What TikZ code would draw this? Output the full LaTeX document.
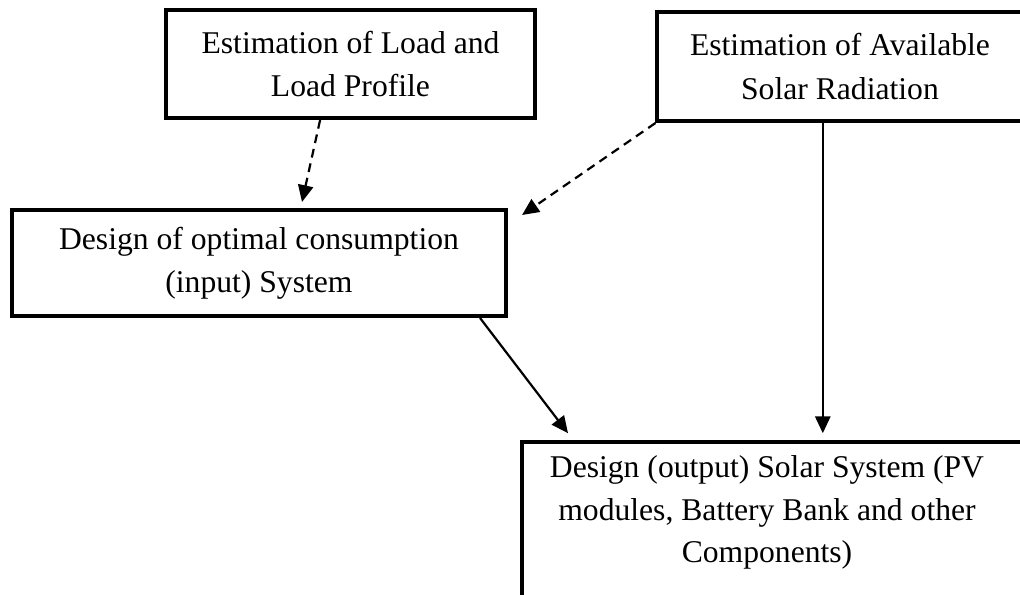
\documentclass[tikz,border=0pt]{standalone}
\usepackage{fontspec}
\setmainfont{Liberation Serif}
\usetikzlibrary{arrows.meta}
\begin{document}
\begin{tikzpicture}[
        x=0.025cm, y=-0.025cm,
        box/.style={
            draw,
            rectangle,
            line width=0.1cm,
            align=center,
            inner sep=0pt,
            font=\fontsize{22.5}{30.6}\selectfont
        },
        flow/.style={
            line width=0.055cm,
            -{Triangle[length=4.2mm,width=3.8mm]}
        },
        hint/.style={
            flow,
            dash pattern=on 0.22cm off 0.15cm
        }
    ]
        \useasboundingbox (0,0) rectangle (1020,594);

        % Boxes
        \node[box, minimum width=9.225cm, minimum height=2.7cm] (load) at (350.5,64) {Estimation of Load and\\Load Profile};
        \node[box, minimum width=9.125cm, minimum height=2.725cm] (sun) at (840,66.5) {Estimation of Available\\Solar Radiation};
        \node[box, minimum width=12.35cm, minimum height=2.65cm] (cons) at (259,263) {Design of optimal consumption\\(input) System};
        \node[box, minimum width=13cm, minimum height=5cm, anchor=north west] (out) at (520,440) {};
        \node[align=center, font=\fontsize{22.5}{30.2}\selectfont, anchor=north] (outtext) at (767,451) {Design (output) Solar System (PV\\modules, Battery Bank and other\\Components)};

        % Arrows
        \draw[hint] ([xshift=-0.76cm]load.south) -- ([xshift=1.075cm,yshift=0.15cm]cons.north);
        \draw[hint] (sun.south west) -- ([xshift=0.35cm,yshift=-0.175cm]cons.north east);
        \draw[flow] ([xshift=5.525cm]cons.south) -- ([xshift=1.2cm,yshift=0.17cm]out.north west);
        \draw[flow] ([xshift=-0.43cm]sun.south) -- ([xshift=-0.43cm,yshift=0.17cm]sun.south |- out.north);

    \end{tikzpicture}
\end{document}
